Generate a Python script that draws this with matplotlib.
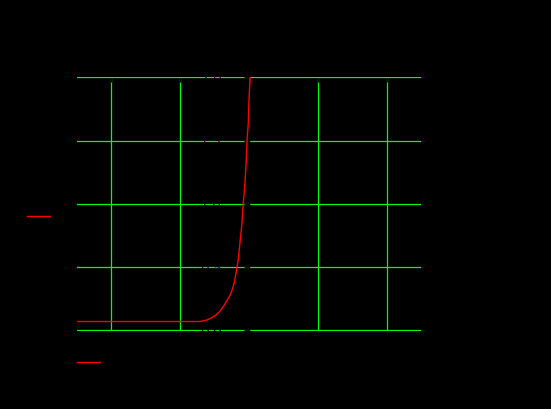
import matplotlib
matplotlib.use("Agg")
import matplotlib.pyplot as plt

# curve (x, y)
x_vals = [-2.5, -1.5, -1.0, -0.712, -0.615, -0.542, -0.469, -0.422, -0.374,
          -0.324, -0.276, -0.243, -0.214, -0.179, -0.156, -0.131, -0.106,
          -0.083, -0.058, -0.044, -0.025, -0.010, 0.000, 0.015, 0.030]
y_vals = [0.070, 0.070, 0.070, 0.070, 0.081, 0.100, 0.126, 0.152, 0.187,
          0.231, 0.276, 0.323, 0.376, 0.480, 0.559, 0.690, 0.821,
          1.005, 1.163, 1.294, 1.530, 1.635, 1.819, 1.982, 2.200]

x_ticks = [-2, -1, 1, 2]
y_ticks = [0.0, 0.5, 1.0, 1.5, 2.0]
curve_label = "f(x)"

fig = plt.figure(figsize=(5.51, 4.09), dpi=100, facecolor="black")
ax = fig.add_axes([0.1397, 0.1907, 0.6243, 0.6210], facecolor="black")

line, = ax.plot(x_vals, y_vals, color="red", lw=1.0, zorder=3, label=curve_label)

ax.set_xlim(-2.5, 2.5)
ax.set_ylim(-0.005, 2.003)
ax.set_xticks(x_ticks)
ax.set_yticks(y_ticks)
ax.grid(True, color="lime", lw=0.9)

for side in ("top", "right", "bottom"):
    ax.spines[side].set_visible(False)
ax.spines["left"].set_position(("data", 0))
ax.spines["left"].set_color("black")
ax.spines["left"].set_linewidth(1.0)

ax.tick_params(axis="x", bottom=False, top=True, direction="in", length=3.5,
               color="black", labelcolor="black", labelbottom=True)
ax.tick_params(axis="y", color="black", labelcolor="black", pad=16)

# two legend entries (black text) as in the reference
leg1 = fig.legend(handles=[line], labels=[curve_label], loc="center left",
                  bbox_to_anchor=(0.049, 0.4694), borderaxespad=0, borderpad=0,
                  frameon=False, handlelength=1.66, labelcolor="black")
leg2 = fig.legend(handles=[line], labels=[curve_label], loc="center left",
                  bbox_to_anchor=(0.1397, 0.1125), borderaxespad=0, borderpad=0,
                  frameon=False, handlelength=1.66, labelcolor="black")
for lg in (leg1, leg2):
    for h in lg.legend_handles:
        h.set_linewidth(1.0)

fig.savefig("out.png", dpi=100, facecolor="black")
